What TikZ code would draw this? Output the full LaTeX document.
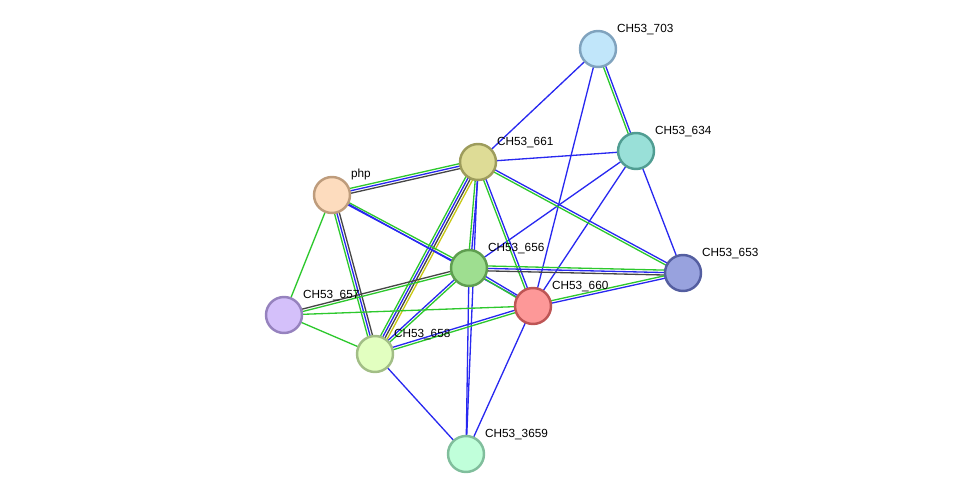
\documentclass[tikz,border=0pt]{standalone}
\usepackage{fontspec}
\newfontfamily\lblfont{Liberation Sans}
\usetikzlibrary{calc}
\pgfdeclarelayer{background}
\pgfsetlayers{background,main}
\definecolor{lg}{RGB}{45,200,45}
\definecolor{lb}{RGB}{40,40,240}
\definecolor{lk}{RGB}{70,70,70}
\definecolor{ly}{RGB}{200,200,20}
% each link: list of colour/offset(pt) pairs
\newcommand\strlink[3]{%
  \foreach \c/\o in {#3}
    \draw [\c,line width=0.75pt] ($(#1)!\o pt!90:(#2)$) -- ($(#2)!\o pt!-90:(#1)$);%
}
\begin{document}
\begin{tikzpicture}[x=0.02cm, y=-0.02cm,
  prot/.style={circle,draw,line width=1.4pt,minimum size=0.72cm,inner sep=0pt},
  lbl/.style={font=\lblfont\fontsize{6.7}{8}\selectfont,inner sep=1.5pt,text=black,xshift=0.05cm,yshift=-0.04cm}]
  \useasboundingbox (0,0) rectangle (976,499);
  \node [prot,fill={rgb,255:red,193;green,230;blue,250},draw={rgb,255:red,128;green,163;blue,190},label={[lbl]45:CH53\_703}] (c703) at (598,49) {};
  \node [prot,fill={rgb,255:red,153;green,224;blue,216},draw={rgb,255:red,80;green,157;blue,146},label={[lbl]45:CH53\_634}] (c634) at (636,151) {};
  \node [prot,fill={rgb,255:red,222;green,220;blue,150},draw={rgb,255:red,157;green,156;blue,92},label={[lbl]45:CH53\_661}] (c661) at (478,162) {};
  \node [prot,fill={rgb,255:red,253;green,220;blue,190},draw={rgb,255:red,190;green,156;blue,124},label={[lbl]45:php}] (php) at (332,195) {};
  \node [prot,fill={rgb,255:red,158;green,222;blue,144},draw={rgb,255:red,95;green,158;blue,80},label={[lbl]45:CH53\_656}] (c656) at (469,268) {};
  \node [prot,fill={rgb,255:red,152;green,162;blue,222},draw={rgb,255:red,84;green,94;blue,160},label={[lbl]45:CH53\_653}] (c653) at (683,273) {};
  \node [prot,fill={rgb,255:red,253;green,152;blue,152},draw={rgb,255:red,190;green,85;blue,85},label={[lbl]45:CH53\_660}] (c660) at (533,306) {};
  \node [prot,fill={rgb,255:red,212;green,192;blue,250},draw={rgb,255:red,150;green,130;blue,190},label={[lbl]45:CH53\_657}] (c657) at (284,315) {};
  \node [prot,fill={rgb,255:red,226;green,255;blue,192},draw={rgb,255:red,162;green,190;blue,134},label={[lbl]45:CH53\_658}] (c658) at (375,354) {};
  \node [prot,fill={rgb,255:red,192;green,255;blue,218},draw={rgb,255:red,128;green,190;blue,156},label={[lbl]45:CH53\_3659}] (c3659) at (466,454) {};
  \begin{pgfonlayer}{background}
    \strlink{c703}{c634}{lg/-0.7,lb/0.7}
    \strlink{c703}{c661}{lb/0}
    \strlink{c703}{c660}{lb/0}
    \strlink{c634}{c661}{lb/0}
    \strlink{c634}{c656}{lb/0}
    \strlink{c634}{c660}{lb/0}
    \strlink{c634}{c653}{lb/0}
    \strlink{c661}{php}{lg/-1.4,lb/0,lk/1.4}
    \strlink{c661}{c656}{lg/-0.7,lb/0.7}
    \strlink{c661}{c660}{lg/-0.7,lb/0.7}
    \strlink{c661}{c653}{lg/-0.7,lb/0.7}
    \strlink{c661}{c658}{lg/-2.1,lb/-0.7,lk/0.7,ly/2.1}
    \strlink{c661}{c3659}{lb/0}
    \strlink{php}{c656}{lb/-0.7,lg/0.7}
    \strlink{php}{c660}{lb/0}
    \strlink{php}{c657}{lg/0}
    \strlink{php}{c658}{lg/-1.4,lb/0,lk/1.4}
    \strlink{c656}{c653}{lk/-1.4,lb/0,lg/1.4}
    \strlink{c656}{c660}{lg/-0.7,lb/0.7}
    \strlink{c656}{c657}{lk/-0.7,lg/0.7}
    \strlink{c656}{c658}{lb/-0.7,lg/0.7}
    \strlink{c656}{c3659}{lb/0}
    \strlink{c657}{c660}{lg/0}
    \strlink{c657}{c658}{lg/0}
    \strlink{c658}{c660}{lg/-0.7,lb/0.7}
    \strlink{c658}{c3659}{lb/0}
    \strlink{c660}{c3659}{lb/0}
    \strlink{c660}{c653}{lb/-0.7,lg/0.7}
  \end{pgfonlayer}
\end{tikzpicture}
\end{document}
